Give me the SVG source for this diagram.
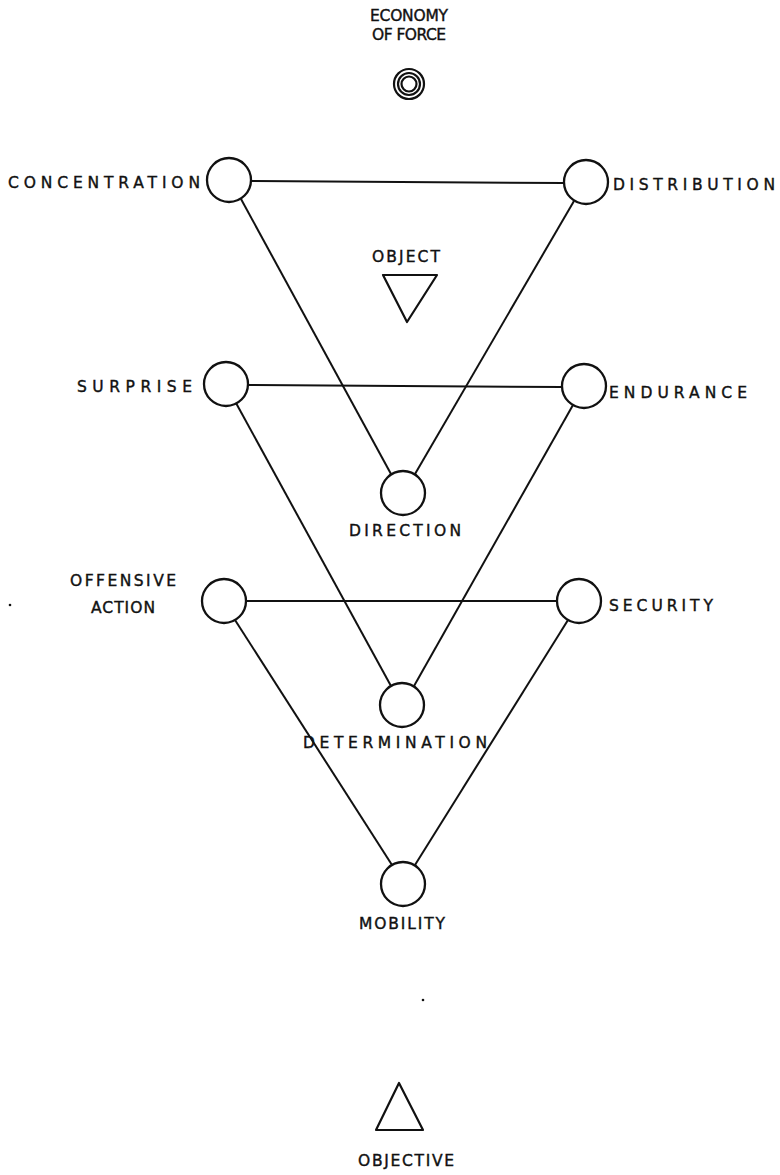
<svg xmlns="http://www.w3.org/2000/svg" width="780" height="1175" viewBox="0 0 780 1175">
  <style>
    .lbl { font-family: "DejaVu Sans", "Liberation Sans", sans-serif; font-size: 15.5px; fill: #111; stroke: #111; stroke-width: 0.4; }
    .ring { fill: #fff; stroke: #111; stroke-width: 2.3; }
    .edge { stroke: #111; stroke-width: 2; fill: none; }
    .sym { fill: none; stroke: #111; stroke-width: 2.2; stroke-linejoin: round; }
  </style>
  <rect width="780" height="1175" fill="#fff"/>

  <!-- connectors -->
  <g id="connectors">
    <line class="edge" x1="251" y1="181" x2="564" y2="183"/>
    <line class="edge" x1="241" y1="199" x2="391" y2="474"/>
    <line class="edge" x1="574" y1="201" x2="415" y2="474"/>
    <line class="edge" x1="247" y1="385" x2="562" y2="387"/>
    <line class="edge" x1="236" y1="403" x2="391" y2="686"/>
    <line class="edge" x1="573" y1="405" x2="414" y2="686"/>
    <line class="edge" x1="246" y1="601" x2="557" y2="601"/>
    <line class="edge" x1="235" y1="620" x2="392" y2="865"/>
    <line class="edge" x1="568" y1="620" x2="415" y2="865"/>
  </g>

  <g id="economy-of-force">
    <text class="lbl" x="409" y="21" text-anchor="middle" textLength="78" lengthAdjust="spacing" font-size="14">ECONOMY</text>
    <text class="lbl" x="409" y="40" text-anchor="middle" textLength="74" lengthAdjust="spacing" font-size="14">OF FORCE</text>
    <circle class="sym" cx="409" cy="84" r="15"/>
    <circle class="sym" cx="409" cy="84" r="11"/>
    <circle class="sym" cx="409" cy="84" r="7.5"/>
  </g>

  <g id="concentration">
    <circle class="ring" cx="229" cy="180" r="22"/>
    <text class="lbl" x="8" y="188" textLength="192" lengthAdjust="spacing">CONCENTRATION</text>
  </g>

  <g id="distribution">
    <circle class="ring" cx="586" cy="182" r="22"/>
    <text class="lbl" x="613" y="190" textLength="162" lengthAdjust="spacing">DISTRIBUTION</text>
  </g>

  <g id="object">
    <text class="lbl" x="406" y="262" text-anchor="middle" textLength="68" lengthAdjust="spacing" font-size="13">OBJECT</text>
    <polygon class="sym" points="383,275 437,275 407,322"/>
  </g>

  <g id="surprise">
    <circle class="ring" cx="226" cy="384" r="22"/>
    <text class="lbl" x="77" y="392" textLength="115" lengthAdjust="spacing">SURPRISE</text>
  </g>

  <g id="endurance">
    <circle class="ring" cx="584" cy="386" r="22"/>
    <text class="lbl" x="609" y="398" textLength="138" lengthAdjust="spacing">ENDURANCE</text>
  </g>

  <g id="direction">
    <circle class="ring" cx="403" cy="493" r="22"/>
    <text class="lbl" x="405" y="536" text-anchor="middle" textLength="112" lengthAdjust="spacing">DIRECTION</text>
  </g>

  <g id="offensive-action">
    <circle class="ring" cx="224" cy="601" r="22"/>
    <text class="lbl" x="123" y="586" text-anchor="middle" textLength="106" lengthAdjust="spacing">OFFENSIVE</text>
    <text class="lbl" x="123" y="613" text-anchor="middle" textLength="64" lengthAdjust="spacing">ACTION</text>
  </g>

  <g id="security">
    <circle class="ring" cx="579" cy="601" r="22"/>
    <text class="lbl" x="609" y="611" textLength="104" lengthAdjust="spacing">SECURITY</text>
  </g>

  <g id="determination">
    <circle class="ring" cx="402" cy="705" r="22"/>
    <text class="lbl" x="303" y="748" textLength="184" lengthAdjust="spacing">DETERMINATION</text>
  </g>

  <g id="mobility">
    <circle class="ring" cx="403" cy="884" r="22"/>
    <text class="lbl" x="402" y="929" text-anchor="middle" textLength="86" lengthAdjust="spacing">MOBILITY</text>
  </g>

  <g id="objective">
    <polygon class="sym" points="399,1083 423,1130 376,1130"/>
    <text class="lbl" x="406" y="1166" text-anchor="middle" textLength="96" lengthAdjust="spacing">OBJECTIVE</text>
  </g>

  <!-- stray specks -->
  <circle cx="10" cy="605" r="1.3" fill="#111"/>
  <circle cx="423" cy="1000" r="1.3" fill="#111"/>
</svg>
